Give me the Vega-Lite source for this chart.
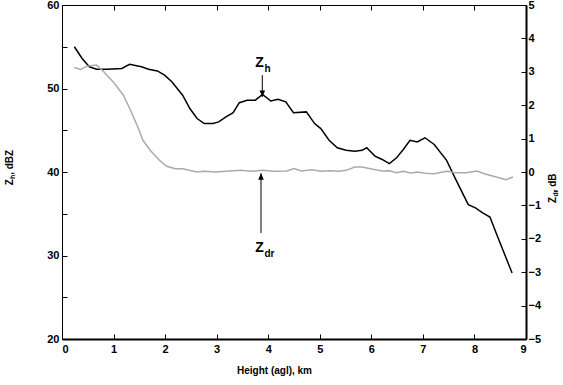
{
  "$schema": "https://vega.github.io/schema/vega-lite/v6.json",
  "width": 464,
  "height": 334,
  "autosize": {"type": "none"},
  "padding": {"left": 62, "top": 5, "right": 37, "bottom": 46},
  "background": "white",
  "config": {
    "view": {"stroke": null},
    "font": "Liberation Sans",
    "axis": {"labelFont": "Liberation Sans", "labelFontWeight": "bold", "labelColor": "black", "labelFontSize": 11, "titleFont": "Liberation Sans", "titleFontWeight": "bold", "titleColor": "black", "domainColor": "black", "tickColor": "black", "grid": false}
  },
  "datasets": {
    "zh": [
      {"km": 0.24, "zh": 55.0}, {"km": 0.39, "zh": 53.6}, {"km": 0.53, "zh": 52.6}, {"km": 0.67, "zh": 52.3},
      {"km": 0.88, "zh": 52.3}, {"km": 1.16, "zh": 52.4}, {"km": 1.31, "zh": 52.9}, {"km": 1.54, "zh": 52.6},
      {"km": 1.68, "zh": 52.3}, {"km": 1.85, "zh": 52.1}, {"km": 1.99, "zh": 51.6}, {"km": 2.13, "zh": 50.8},
      {"km": 2.34, "zh": 49.2}, {"km": 2.48, "zh": 47.6}, {"km": 2.62, "zh": 46.4}, {"km": 2.76, "zh": 45.8},
      {"km": 2.93, "zh": 45.8}, {"km": 3.04, "zh": 46.0}, {"km": 3.18, "zh": 46.6}, {"km": 3.32, "zh": 47.1},
      {"km": 3.44, "zh": 48.3}, {"km": 3.59, "zh": 48.6}, {"km": 3.75, "zh": 48.6}, {"km": 3.89, "zh": 49.3},
      {"km": 4.05, "zh": 48.5}, {"km": 4.19, "zh": 48.7}, {"km": 4.34, "zh": 48.4}, {"km": 4.49, "zh": 47.1},
      {"km": 4.74, "zh": 47.2}, {"km": 4.90, "zh": 45.8}, {"km": 5.02, "zh": 45.2}, {"km": 5.18, "zh": 43.8},
      {"km": 5.34, "zh": 42.9}, {"km": 5.51, "zh": 42.6}, {"km": 5.68, "zh": 42.5}, {"km": 5.82, "zh": 42.6},
      {"km": 5.91, "zh": 42.9}, {"km": 6.07, "zh": 41.9}, {"km": 6.21, "zh": 41.5}, {"km": 6.35, "zh": 41.0},
      {"km": 6.49, "zh": 41.7}, {"km": 6.62, "zh": 42.7}, {"km": 6.75, "zh": 43.8}, {"km": 6.89, "zh": 43.6},
      {"km": 7.04, "zh": 44.1}, {"km": 7.22, "zh": 43.3}, {"km": 7.46, "zh": 41.4}, {"km": 7.63, "zh": 39.2},
      {"km": 7.88, "zh": 36.1}, {"km": 8.02, "zh": 35.7}, {"km": 8.16, "zh": 35.1}, {"km": 8.30, "zh": 34.6},
      {"km": 8.44, "zh": 32.4}, {"km": 8.73, "zh": 27.9}
    ],
    "zdr": [
      {"km": 0.24, "zdr": 3.13}, {"km": 0.36, "zdr": 3.07}, {"km": 0.49, "zdr": 3.17}, {"km": 0.67, "zdr": 3.20},
      {"km": 0.81, "zdr": 3.00}, {"km": 1.02, "zdr": 2.65}, {"km": 1.19, "zdr": 2.30}, {"km": 1.33, "zdr": 1.85},
      {"km": 1.47, "zdr": 1.35}, {"km": 1.57, "zdr": 0.95}, {"km": 1.71, "zdr": 0.65}, {"km": 1.89, "zdr": 0.35},
      {"km": 2.03, "zdr": 0.17}, {"km": 2.20, "zdr": 0.10}, {"km": 2.34, "zdr": 0.10}, {"km": 2.62, "zdr": 0.0},
      {"km": 2.76, "zdr": 0.02}, {"km": 2.97, "zdr": 0.0}, {"km": 3.25, "zdr": 0.03}, {"km": 3.46, "zdr": 0.05},
      {"km": 3.66, "zdr": 0.02}, {"km": 3.91, "zdr": 0.05}, {"km": 4.08, "zdr": 0.02}, {"km": 4.36, "zdr": 0.03},
      {"km": 4.50, "zdr": 0.10}, {"km": 4.64, "zdr": 0.03}, {"km": 4.85, "zdr": 0.07}, {"km": 5.02, "zdr": 0.02},
      {"km": 5.20, "zdr": 0.04}, {"km": 5.37, "zdr": 0.02}, {"km": 5.51, "zdr": 0.05}, {"km": 5.68, "zdr": 0.15},
      {"km": 5.82, "zdr": 0.15}, {"km": 6.03, "zdr": 0.08}, {"km": 6.21, "zdr": 0.03}, {"km": 6.35, "zdr": 0.04},
      {"km": 6.49, "zdr": -0.02}, {"km": 6.62, "zdr": 0.02}, {"km": 6.76, "zdr": -0.03}, {"km": 6.90, "zdr": 0.0},
      {"km": 7.04, "zdr": -0.04}, {"km": 7.22, "zdr": -0.05}, {"km": 7.46, "zdr": 0.02}, {"km": 7.63, "zdr": -0.02},
      {"km": 7.84, "zdr": -0.02}, {"km": 8.05, "zdr": 0.03}, {"km": 8.19, "zdr": -0.05}, {"km": 8.37, "zdr": -0.13},
      {"km": 8.61, "zdr": -0.23}, {"km": 8.75, "zdr": -0.15}
    ],
    "labels": [
      {"km": 3.83, "zh": 53.05, "main": "Z", "sub": "h"},
      {"km": 3.83, "zh": 30.9, "main": "Z", "sub": "dr"}
    ],
    "arrowsDown": [{"km": 3.885, "top": 51.6, "tip": 49.0}],
    "arrowsUp": [{"km": 3.86, "tip": 39.85, "bottom": 32.7}],
    "ytitles": [
      {"km": -1.0, "zh": 38.4, "main": "Z", "sub": "h", "rest": ", dBZ"},
      {"km": 9.53, "zh": 36.3, "main": "Z", "sub": "dr", "rest": ", dB"}
    ]
  },
  "layer": [
    {
      "layer": [
        {
          "data": {"name": "zh"},
          "mark": {"type": "line", "color": "black", "strokeWidth": 1.5},
          "encoding": {
            "x": {"field": "km", "type": "quantitative", "scale": {"domain": [0, 9], "nice": false, "zero": false},
                  "axis": {"orient": "bottom", "values": [0,1,2,3,4,5,6,7,8,9], "tickSize": -5, "labelPadding": 9, "domainWidth": 2, "title": "Height (agl), km", "titleFontSize": 10, "titleX": 212, "titleY": 31, "titleBaseline": "middle", "titleAlign": "center"}},
            "y": {"field": "zh", "type": "quantitative", "scale": {"domain": [20, 60], "nice": false, "zero": false},
                  "axis": {"orient": "left", "values": [20,25,30,35,40,45,50,55,60], "labelExpr": "datum.value % 10 === 0 ? datum.label : ''", "tickSize": -5, "labelPadding": 8, "domainWidth": 1, "title": null}}
          }
        },
        {
          "data": {"name": "arrowsDown"},
          "mark": {"type": "rule", "color": "black", "strokeWidth": 1},
          "encoding": {"x": {"field": "km", "type": "quantitative"}, "y": {"field": "top", "type": "quantitative"}, "y2": {"field": "tip"}}
        },
        {
          "data": {"name": "arrowsDown"},
          "mark": {"type": "point", "shape": "M0,0L-0.7,-1.6L0.7,-1.6Z", "filled": true, "color": "black", "size": 64, "opacity": 1},
          "encoding": {"x": {"field": "km", "type": "quantitative"}, "y": {"field": "tip", "type": "quantitative"}}
        },
        {
          "data": {"name": "arrowsUp"},
          "mark": {"type": "rule", "color": "black", "strokeWidth": 1},
          "encoding": {"x": {"field": "km", "type": "quantitative"}, "y": {"field": "tip", "type": "quantitative"}, "y2": {"field": "bottom"}}
        },
        {
          "data": {"name": "arrowsUp"},
          "mark": {"type": "point", "shape": "M0,0L-0.7,1.6L0.7,1.6Z", "filled": true, "color": "black", "size": 64, "opacity": 1},
          "encoding": {"x": {"field": "km", "type": "quantitative"}, "y": {"field": "tip", "type": "quantitative"}}
        },
        {
          "data": {"name": "labels"},
          "mark": {"type": "text", "font": "Liberation Sans", "fontWeight": "bold", "fontSize": 14, "align": "center", "baseline": "middle", "color": "black"},
          "encoding": {"x": {"field": "km", "type": "quantitative"}, "y": {"field": "zh", "type": "quantitative"}, "text": {"field": "main"}}
        },
        {
          "data": {"name": "labels"},
          "mark": {"type": "text", "font": "Liberation Sans", "fontWeight": "bold", "fontSize": 10, "align": "left", "baseline": "middle", "dx": 5, "dy": 6, "color": "black"},
          "encoding": {"x": {"field": "km", "type": "quantitative"}, "y": {"field": "zh", "type": "quantitative"}, "text": {"field": "sub"}}
        },
        {
          "data": {"name": "ytitles"},
          "mark": {"type": "text", "font": "Liberation Sans", "fontWeight": "bold", "fontSize": 10, "align": "left", "baseline": "middle", "angle": 270, "color": "black"},
          "encoding": {"x": {"field": "km", "type": "quantitative"}, "y": {"field": "zh", "type": "quantitative"}, "text": {"field": "main"}}
        },
        {
          "data": {"name": "ytitles"},
          "mark": {"type": "text", "font": "Liberation Sans", "fontWeight": "bold", "fontSize": 7, "align": "left", "baseline": "middle", "angle": 270, "dx": 6.3, "dy": 3, "color": "black"},
          "encoding": {"x": {"field": "km", "type": "quantitative"}, "y": {"field": "zh", "type": "quantitative"}, "text": {"field": "sub"}}
        },
        {
          "data": {"name": "ytitles"},
          "mark": {"type": "text", "font": "Liberation Sans", "fontWeight": "bold", "fontSize": 10, "align": "left", "baseline": "middle", "angle": 270, "dx": 10.5, "color": "black"},
          "encoding": {"x": {"field": "km", "type": "quantitative"}, "y": {"field": "zh", "type": "quantitative"}, "text": {"field": "rest"}}
        }
      ]
    },
    {
      "data": {"name": "zdr"},
      "mark": {"type": "line", "color": "#aaaaaa", "strokeWidth": 1.5},
      "encoding": {
        "x": {"field": "km", "type": "quantitative",
              "axis": {"orient": "top", "values": [0,1,2,3,4,5,6,7,8,9], "labels": false, "tickSize": -5, "domainWidth": 1, "title": null}},
        "y": {"field": "zdr", "type": "quantitative", "scale": {"domain": [-5, 5], "nice": false, "zero": false},
              "axis": {"orient": "right", "values": [-5,-4.5,-4,-3.5,-3,-2.5,-2,-1.5,-1,-0.5,0,0.5,1,1.5,2,2.5,3,3.5,4,4.5,5], "format": "d", "labelExpr": "datum.value % 1 === 0 ? datum.label : ''", "tickSize": -5, "labelPadding": 7, "domainWidth": 2, "title": null}}
      }
    }
  ],
  "resolve": {"scale": {"y": "independent"}, "axis": {"x": "independent"}}
}
